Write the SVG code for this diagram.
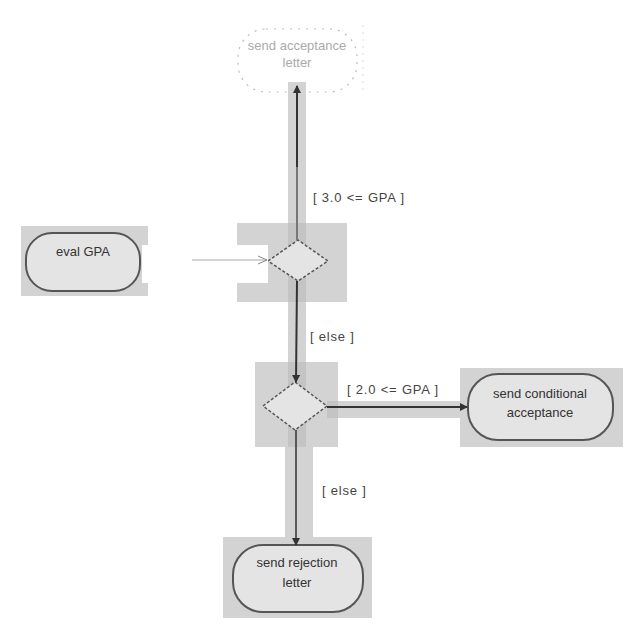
<svg xmlns="http://www.w3.org/2000/svg" width="640" height="640" viewBox="0 0 640 640">
<defs>
<marker id="ah" markerWidth="8" markerHeight="8" refX="7" refY="4" orient="auto" markerUnits="userSpaceOnUse">
<path d="M0,0 L8,4 L0,8 Z" fill="#333"/>
</marker>
<marker id="ao" markerWidth="10" markerHeight="10" refX="9" refY="5" orient="auto" markerUnits="userSpaceOnUse">
<path d="M0,1 L9,5 L0,9" fill="none" stroke="#888" stroke-width="1"/>
</marker>
</defs>
<style>
.hl{fill:#d3d3d3}
.band{fill:#c4c4c4}
.node{fill:#e4e4e4;stroke:#555;stroke-width:2}
.dec{fill:#e4e4e4;stroke:#555;stroke-width:1.5;stroke-dasharray:3,2}
.t{font-family:"Liberation Sans",Arial,sans-serif;font-size:13px;fill:#333;text-anchor:middle}
.lbl{font-family:"Liberation Sans",Arial,sans-serif;font-size:13px;fill:#444;letter-spacing:0.8px}
.edge{stroke:#333;stroke-width:2;fill:none}
</style>
<rect width="640" height="640" fill="#fff"/>
<g id="send-acceptance">
<rect x="238" y="29" width="119" height="63" rx="28" fill="none" stroke="#bbb" stroke-width="1.2" stroke-dasharray="2,6"/>
<line x1="363" y1="25" x2="363" y2="95" stroke="#ddd" stroke-width="1" stroke-dasharray="2,5"/>
<text class="t" x="297" y="50" style="fill:#aaa">send acceptance</text>
<text class="t" x="297" y="67" style="fill:#aaa">letter</text>
</g>
<g id="eval-gpa">
<rect class="hl" x="21" y="226" width="127" height="70"/>
<rect class="node" x="26" y="233" width="114" height="58" rx="26"/>
<text class="t" x="83" y="256">eval GPA</text>
</g>
<g id="decision1">
<rect class="hl" x="237" y="223" width="110" height="79"/>
<rect class="band" x="288" y="223" width="18" height="79"/>
<polygon class="dec" points="268,261 298,240 328,261 298,281"/>
</g>
<g id="decision2">
<rect class="hl" x="255" y="362" width="83" height="85"/>
<rect class="band" x="288" y="362" width="18" height="85"/>
<polygon class="dec" points="263,406 295,382 327,406 295,430"/>
</g>
<g id="send-conditional">
<rect class="hl" x="460" y="368" width="163" height="79"/>
<rect class="node" x="468" y="374" width="145" height="66" rx="30"/>
<text class="t" x="540" y="398">send conditional</text>
<text class="t" x="540" y="417">acceptance</text>
</g>
<g id="send-rejection">
<rect class="hl" x="223" y="537" width="149" height="81"/>
<rect class="node" x="233" y="545" width="130" height="67" rx="30"/>
<text class="t" x="297" y="567">send rejection</text>
<text class="t" x="297" y="587">letter</text>
</g>
<g id="connectors">
<rect class="hl" x="288" y="82" width="18" height="141"/>
<rect class="hl" x="288" y="302" width="18" height="60"/>
<rect class="hl" x="285" y="447" width="28" height="90"/>
<rect class="hl" x="338" y="401" width="122" height="17"/>
<rect x="327" y="401" width="11" height="17" style="fill:#c4c4c4"/>
<rect x="142" y="245" width="126" height="38" fill="#fff"/>
<line x1="297" y1="240" x2="297" y2="90" stroke="#777" stroke-width="2"/>
<line x1="297" y1="167" x2="297" y2="86" class="edge" marker-end="url(#ah)"/>
<line x1="192" y1="260" x2="267" y2="260" stroke="#aaa" stroke-width="1.2" marker-end="url(#ao)"/>
<line x1="297" y1="281" x2="296" y2="382" class="edge" marker-end="url(#ah)"/>
<line x1="327" y1="407" x2="467" y2="407" class="edge" marker-end="url(#ah)"/>
<line x1="296" y1="430" x2="296" y2="545" stroke="#333" stroke-width="1.5" marker-end="url(#ah)"/>
<text class="lbl" x="313" y="202">[ 3.0 &lt;= GPA ]</text>
<text class="lbl" x="310" y="341">[ else ]</text>
<text class="lbl" x="347" y="394">[ 2.0 &lt;= GPA ]</text>
<text class="lbl" x="322" y="495">[ else ]</text>
</g>
</svg>
